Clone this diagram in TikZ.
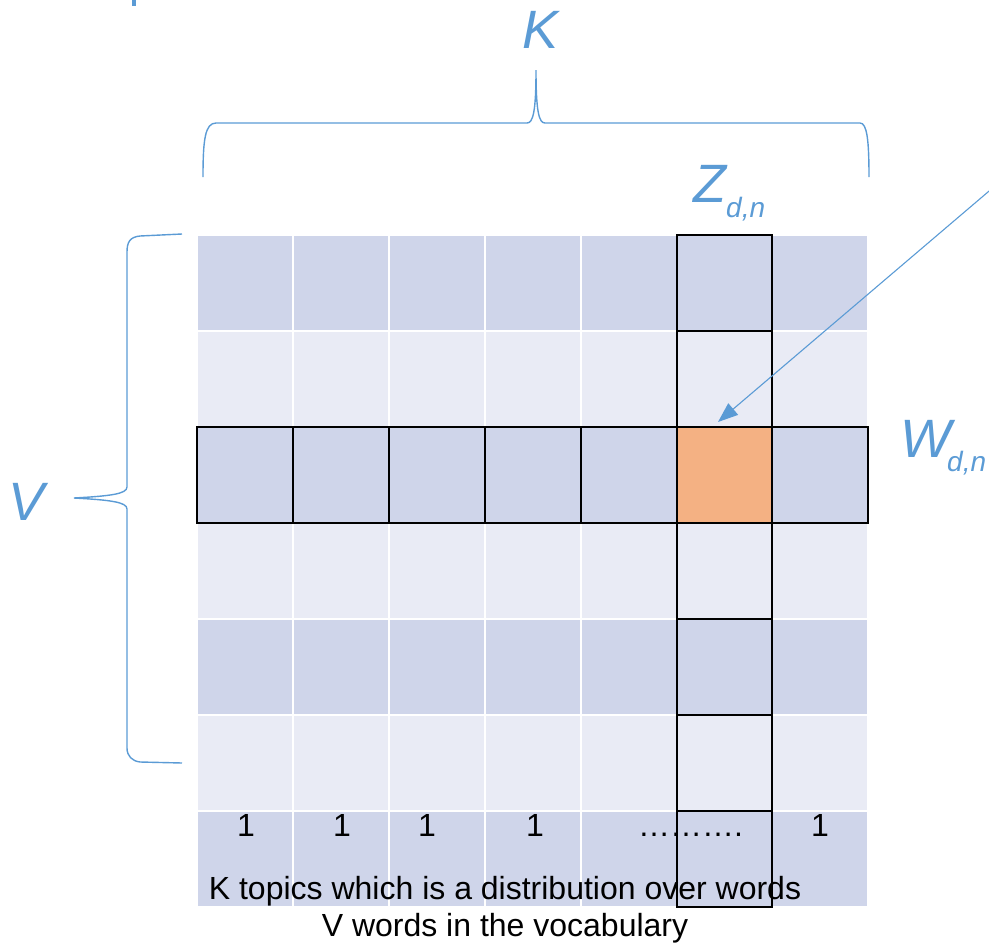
\documentclass[tikz,border=0pt]{standalone}
\usepackage{fontspec}
\setmainfont{Liberation Sans}
\usetikzlibrary{arrows.meta}
\definecolor{darkcell}{HTML}{CFD5EA}
\definecolor{lightcell}{HTML}{E9EBF5}
\definecolor{hicell}{HTML}{F4B183}
\definecolor{lblue}{HTML}{5B9BD5}
\tikzset{
  cellbox/.style={draw=white, line width=2pt, minimum width=95.9pt, minimum height=96pt, inner sep=0pt, outer sep=0pt},
  outl/.style={draw=black, line width=2pt},
  bracepath/.style={draw=lblue, line width=1.4pt},
  biglabel/.style={text=lblue, font=\fontsize{54}{60}\selectfont\itshape, inner sep=0pt},
  sublabel/.style={text=lblue, font=\fontsize{28}{32}\selectfont\itshape, inner sep=0pt},
  numtext/.style={font=\fontsize{32}{36}\selectfont, inner sep=0pt},
  pointer/.style={draw=lblue, line width=1.1pt, -{Triangle[length=20pt,width=15pt]}}
}
\begin{document}
\begin{tikzpicture}[x=1pt,y=-1pt]
\useasboundingbox (0,0) rectangle (989,943);
% grid cells
\foreach \r in {1,...,7}{
  \foreach \c in {1,...,7}{
    \pgfmathsetmacro{\cx}{197+95.9*(\c-0.5)}
    \pgfmathsetmacro{\cy}{235+96*(\r-0.5)}
    \pgfmathtruncatemacro{\odd}{mod(\r,2)}
    \ifnum\odd=1
      \node[cellbox, fill=darkcell] (c\r\c) at (\cx,\cy) {};
    \else
      \node[cellbox, fill=lightcell] (c\r\c) at (\cx,\cy) {};
    \fi
  }
}
\node[cellbox, fill=hicell] (hi) at (c36) {};
% outlined column and row
\foreach \r in {1,...,7}{
  \draw[outl] (c\r6.north west) rectangle (c\r6.south east);
}
\foreach \c in {1,...,7}{
  \draw[outl] (c3\c.north west) rectangle (c3\c.south east);
}
% top brace (K)
\draw[bracepath] (203,177) .. controls (203,140) and (205,123) .. (216,123)
  -- (527,123) .. controls (533,123) and (536,112) .. (536,70)
  .. controls (536,112) and (539,123) .. (545,123)
  -- (860,123) .. controls (867,123) and (869,140) .. (869,177);
% left brace (V)
\draw[bracepath] (182,234) -- (140,236) .. controls (130,237) and (127,242) .. (127,252)
  -- (127,487) .. controls (127,494) and (110,496) .. (74,498)
  .. controls (110,500) and (127,502) .. (127,509)
  -- (127,748) .. controls (127,756) and (132,761) .. (140,762) -- (182,763);
% labels
\node[biglabel, anchor=base west] (klab) at (522,48) {K};
\node[biglabel, anchor=base west] (zlab) at (693,202) {Z};
\node[sublabel, anchor=base west] (zsub) at (726,217) {d,n};
\node[biglabel, anchor=base west] (vlab) at (8,520) {V};
\node[biglabel, anchor=base west] (wlab) at (900,457) {W};
\node[sublabel, anchor=base west] (wsub) at (947,471) {d,n};
\fill[lblue] (132,0) rectangle (136,6);
% arrow
\coordinate (src) at (995,186);
\coordinate (tip) at (718,422);
\draw[pointer] (src) -- (tip);
% numbers
\node[numtext, anchor=base] (n1) at (246,836) {1};
\node[numtext, anchor=base] (n2) at (342,836) {1};
\node[numtext, anchor=base] (n3) at (427,836) {1};
\node[numtext, anchor=base] (n4) at (535,836) {1};
\node[numtext, anchor=base west] (n5) at (638,836) {……….};
\node[numtext, anchor=base] (n6) at (820,836) {1};
% bottom text
\node[numtext, anchor=base] (t1) at (505,899) {K topics which is a distribution over words};
\node[numtext, anchor=base] (t2) at (505,936) {V words in the vocabulary};
\end{tikzpicture}
\end{document}
